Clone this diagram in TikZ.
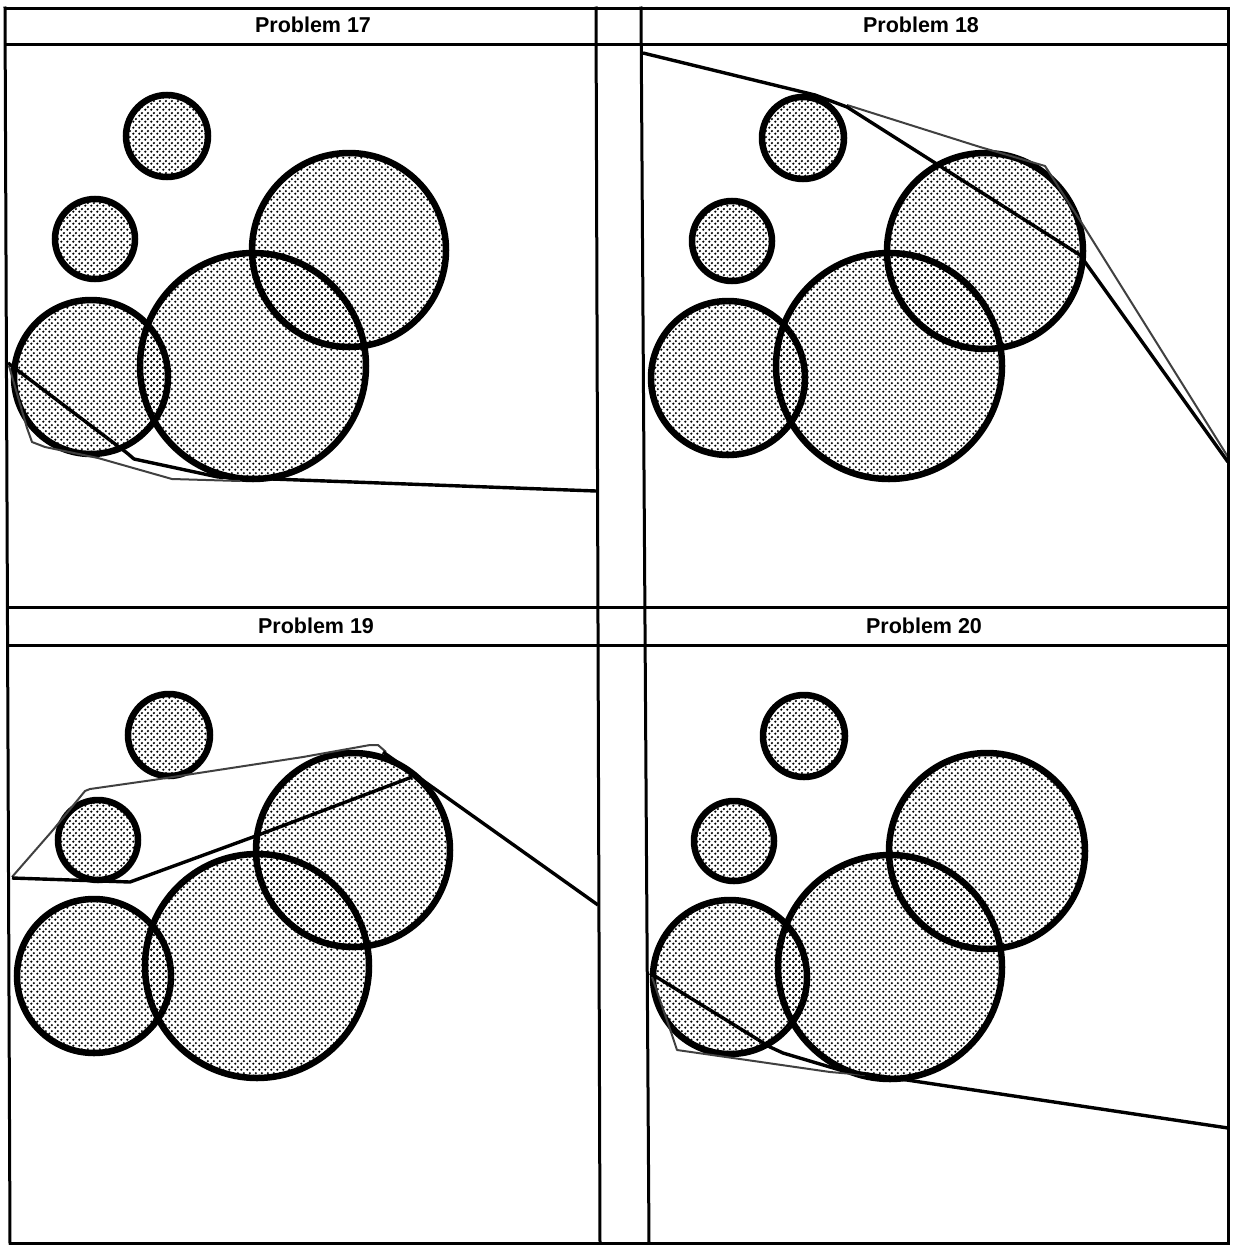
\documentclass[tikz,border=0pt]{standalone}
\usepackage{fontspec}
\setmainfont{Liberation Sans}
\usetikzlibrary{patterns}
\pgfdeclarepatternformonly{stip}{\pgfpointorigin}{\pgfpoint{6pt}{6pt}}{\pgfpoint{6pt}{6pt}}{%
  \pgfpathcircle{\pgfpoint{1.5pt}{1.5pt}}{1.4pt}%
  \pgfpathcircle{\pgfpoint{4.5pt}{4.5pt}}{1.4pt}%
  \pgfusepath{fill}}
\begin{document}
\begin{tikzpicture}[x=1pt,y=-1pt,
  frameline/.style={line width=3pt, line cap=rect},
  ball/.style={line width=6.5pt},
  ballfill/.style={pattern=stip},
  route/.style={line width=3.4pt, line join=round},
  trace/.style={line width=2pt, black!75, line join=round},
  title/.style={font=\bfseries\fontsize{21.5}{24}\selectfont}]
\useasboundingbox (0,0) rectangle (1233,1245);

% circle fills
\foreach \cx/\cy/\r in {167/136/41, 95/239/40, 91/377/77, 253/366/113, 349/250/97,
  803/138/41, 732/241/40, 728/378/77, 889/366/113, 985/251/98,
  169/735/41, 98/840/40, 94/976/77, 257/966/112, 353/850/97,
  804/736/41, 734/841/40, 730/977/77, 890/967/112, 987/851/98}
  \fill[ballfill] (\cx,\cy) circle[radius=\r];
% circle outlines
\foreach \cx/\cy/\r in {167/136/41, 95/239/40, 91/377/77, 253/366/113, 349/250/97,
  803/138/41, 732/241/40, 728/378/77, 889/366/113, 985/251/98,
  169/735/41, 98/840/40, 94/976/77, 257/966/112, 353/850/97,
  804/736/41, 734/841/40, 730/977/77, 890/967/112, 987/851/98}
  \draw[ball] (\cx,\cy) circle[radius=\r];

% Problem 17 paths
\draw[trace] (9,366) -- (27,428) -- (32,442) -- (45,447) -- (98,458) -- (172,479) -- (240,481);
\draw[route] (8,363) -- (127,453) -- (134,459) -- (218,477) -- (596,491);

% Problem 18 paths
\draw[trace] (847,105) -- (980,147) -- (1045,166) -- (1083,225) -- (1228,457);
\draw[route] (643,53) -- (815,95) -- (847,107) -- (1080,255) -- (1085,262) -- (1228,462);

% Problem 19 paths
\draw[trace] (12,877) -- (53,830) -- (85,791) -- (90,789) -- (153,780) -- (303,757) -- (370,745) -- (378,745) -- (386,752);
\draw[route] (12,878) -- (130,882) -- (253,837) -- (412,777);
\draw[route] (383,752) -- (598,905);

% Problem 20 paths
\draw[trace] (652,977) -- (672,1035) -- (677,1050) -- (740,1059) -- (830,1072) -- (865,1075);
\draw[route] (650,973) -- (770,1047) -- (783,1053) -- (840,1070) -- (1228,1128);

% frame
\draw[frameline] (5,8) -- (1228,8);
\draw[frameline] (5,44) -- (1228,44);
\draw[frameline] (7,607) -- (1228,607);
\draw[frameline] (7,645) -- (1228,645);
\draw[frameline] (10,1243) -- (1228,1243);
\draw[frameline] (5,8) -- (10,1243);
\draw[frameline] (596,8) -- (600,1243);
\draw[frameline] (641,8) -- (649,1243);
\draw[frameline] (1228,8) -- (1228,1243);

% titles
\node[title] (t17) at (313,25) {Problem 17};
\node[title] (t18) at (921,25) {Problem 18};
\node[title] (t19) at (316,626) {Problem 19};
\node[title] (t20) at (924,626) {Problem 20};
\end{tikzpicture}
\end{document}
